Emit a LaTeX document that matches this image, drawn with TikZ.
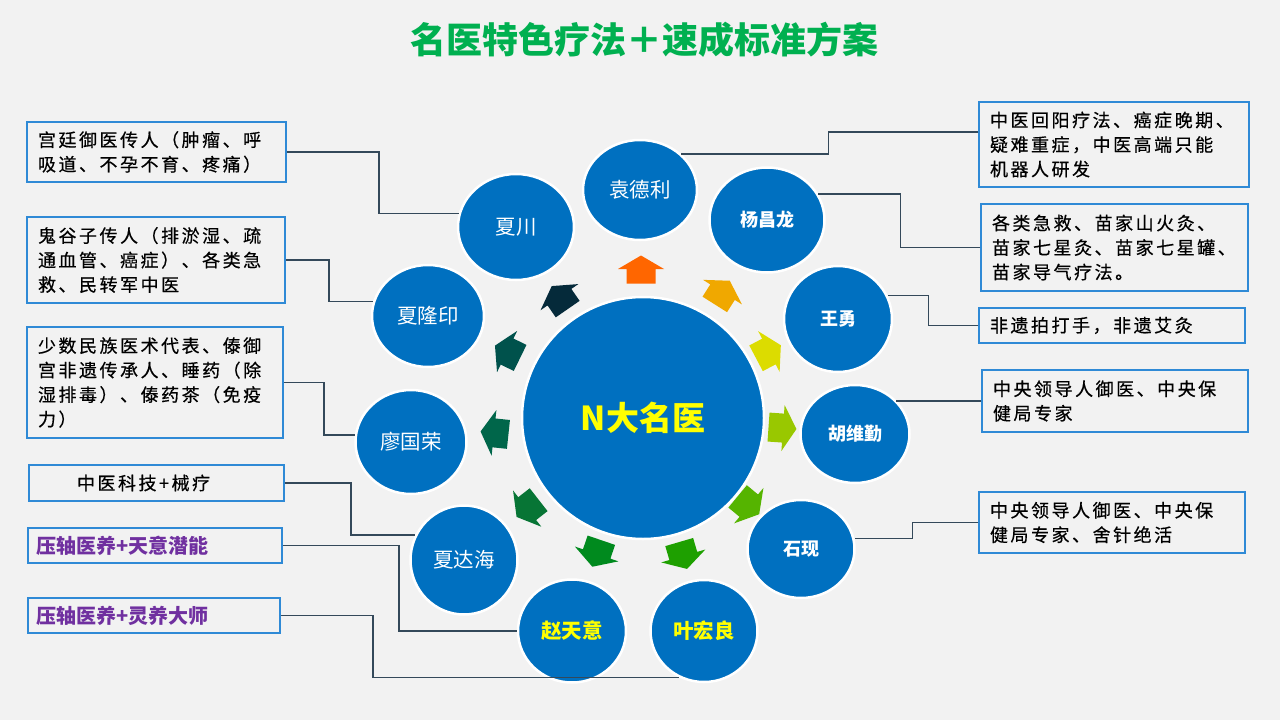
\documentclass[tikz,border=0pt]{standalone}
\usepackage{fontspec}
\usetikzlibrary{shapes.geometric}
\newfontfamily\cjk{Noto Sans CJK SC}
\newfontfamily\cjkbox[LetterSpace=14,FakeBold=0.5]{Noto Sans CJK SC}
\definecolor{bgc}{HTML}{F2F2F2}
\definecolor{pblue}{HTML}{0070C0}
\definecolor{bborder}{HTML}{2F8AD6}
\definecolor{cline}{HTML}{34495A}
\definecolor{tgreen}{HTML}{00B050}
\definecolor{ppurple}{HTML}{7030A0}
\definecolor{yel}{HTML}{FFFF00}
\definecolor{a1}{HTML}{FF6600}
\definecolor{a2}{HTML}{F0A800}
\definecolor{a3}{HTML}{DCDC00}
\definecolor{a4}{HTML}{99C800}
\definecolor{a5}{HTML}{55B400}
\definecolor{a6}{HTML}{1EA000}
\definecolor{a7}{HTML}{008A1E}
\definecolor{a8}{HTML}{077535}
\definecolor{a9}{HTML}{00664A}
\definecolor{a10}{HTML}{00524C}
\definecolor{a11}{HTML}{052A3A}
\begin{document}
\begin{tikzpicture}[x=1pt,y=-1pt,
  doc/.style={ellipse, fill=pblue, draw=white, line width=2.5pt, inner sep=0pt, text=white,
    font=\cjk\fontsize{20.5}{24}\selectfont},
  docb/.style={doc, font=\cjk\bfseries\fontsize{18}{22}\selectfont},
  docy/.style={doc, text=yel, font=\cjk\bfseries\fontsize{20.5}{24}\selectfont},
  infobox/.style={draw=bborder, line width=1.5pt, inner xsep=11pt, inner ysep=0pt, align=left,
    font=\cjkbox\fontsize{18}{24.5}\selectfont, text=black},
  conn/.style={draw=cline, line width=1.5pt},
  radarrow/.style={draw=none}
]
\fill[bgc] (0,0) rectangle (1280,720);
\useasboundingbox (0,0) rectangle (1280,720);

% title
\node[text=tgreen, font=\cjk\bfseries\fontsize{36}{40}\selectfont] (title) at (644,40) {名医特色疗法＋速成标准方案};

% info boxes left
\node[infobox, minimum width=259pt, minimum height=60pt, text width=237pt] (L1) at (156.5,152)
  {宫廷御医传人（肿瘤、呼\\吸道、不孕不育、疼痛）};
\node[infobox, minimum width=258pt, minimum height=86pt, text width=236pt] (L2) at (156,260)
  {鬼谷子传人（排淤湿、疏\\通血管、癌症）、各类急\\救、民转军中医};
\node[infobox, minimum width=256pt, minimum height=111pt, text width=234pt] (L3) at (155,382.5)
  {少数民族医术代表、傣御\\宫非遗传承人、睡药（除\\湿排毒）、傣药茶（免疫\\力）};
\node[infobox, minimum width=255pt, minimum height=36pt, text width=233pt] (L4) at (156.5,483)
  {\hspace*{37pt}中医科技+械疗};
\node[infobox, minimum width=254pt, minimum height=35pt, text width=232pt, text=ppurple,
  font=\cjk\bfseries\fontsize{20}{24}\selectfont] (L5) at (155,545.5) {\hspace*{-3pt}压轴医养+天意潜能};
\node[infobox, minimum width=252pt, minimum height=35pt, text width=230pt, text=ppurple,
  font=\cjk\bfseries\fontsize{20}{24}\selectfont] (L6) at (154,615.5) {\hspace*{-3pt}压轴医养+灵养大师};

% info boxes right
\node[infobox, minimum width=270pt, minimum height=85pt, text width=248pt] (R1) at (1114,144.5)
  {中医回阳疗法、癌症晚期、\\疑难重症，中医高端只能\\机器人研发};
\node[infobox, minimum width=267pt, minimum height=87pt, text width=245pt] (R2) at (1114.5,247.5)
  {各类急救、苗家山火灸、\\苗家七星灸、苗家七星罐、\\苗家导气疗法。};
\node[infobox, minimum width=266pt, minimum height=35pt, text width=244pt] (R3) at (1112,325.5)
  {非遗拍打手，非遗艾灸};
\node[infobox, minimum width=266pt, minimum height=62pt, text width=244pt] (R4) at (1115,401)
  {中央领导人御医、中央保\\健局专家};
\node[infobox, minimum width=266pt, minimum height=61pt, text width=244pt] (R5) at (1112,522.5)
  {中央领导人御医、中央保\\健局专家、舍针绝活};

% circles
\node[doc, minimum width=242pt, minimum height=242pt, text=yel,
  font=\cjk\bfseries\fontsize{33}{36}\selectfont] (hub) at (643,418) {N大名医};
\node[doc,  minimum width=114pt, minimum height=100pt] (ydl) at (640,190) {袁德利};
\node[docb, minimum width=115pt, minimum height=105pt] (ycl) at (767,220) {杨昌龙};
\node[docb, minimum width=108pt, minimum height=106pt] (wy)  at (838,319) {王勇};
\node[docb, minimum width=109pt, minimum height=98pt]  (hwq) at (855,434) {胡维勤};
\node[docb, minimum width=107pt, minimum height=98pt]  (sx)  at (801,549) {石现};
\node[docy, minimum width=107pt, minimum height=102pt] (yhl) at (704,631) {叶宏良};
\node[docy, minimum width=108pt, minimum height=103pt] (zty) at (572,631) {赵天意};
\node[doc,  minimum width=107pt, minimum height=109pt] (xdh) at (464,560) {夏达海};
\node[doc,  minimum width=111pt, minimum height=104pt] (lgr) at (411,442) {廖国荣};
\node[doc,  minimum width=112pt, minimum height=102pt] (xly) at (428,316) {夏隆印};
\node[doc,  minimum width=116pt, minimum height=106pt] (xc)  at (516,227) {夏川};

% radial arrows
\foreach \px/\py/\ang/\col in {641/270/90/a1, 722/293/57.7/a2, 768/352/27.8/a3, 782/428/-4/a4,
  748/505/-39.6/a5, 683/555/-73.7/a6, 597/553/-108.8/a7, 528/508/-142/a8, 495/433/174/a9,
  508/352/154/a10, 560/298/124.7/a11}{
  \fill[\col, radarrow, shift={(\px,\py)}, rotate={\ang-90}]
    (0,-14.5) -- (23,-1) -- (14.5,-1) -- (14.5,13.5) -- (-14.5,13.5) -- (-14.5,-1) -- (-23,-1) -- cycle;
}

% connectors left
\draw[conn] (L1.east) -- ++(92,0) |- (xc.167);
\draw[conn] (L2.east) -- ++(43,0) |- (xly.165);
\draw[conn] (L3.east) -- ++(40,0) |- (lgr.173);
\draw[conn] (L4.east) -- ++(66,0) |- (xdh.153);
\draw[conn] (L5.east) -- ++(116,0) |- (zty.180);
\draw[conn] (L6.east) -- ++(92,0) |- (yhl.242);

% connectors right
\draw[conn] ([yshift=12.5pt]R1.west) -- ++(-150,0) |- (ydl.41);
\draw[conn] (R2.west) -- ++(-80,0) |- (ycl.27);
\draw[conn] (R3.west) -- ++(-50,0) |- (wy.25);
\draw[conn] (R4.west) -- (R4.west -| hwq.39);
\draw[conn] (R5.west) -- ++(-66,0) |- (sx.11);
\end{tikzpicture}
\end{document}
